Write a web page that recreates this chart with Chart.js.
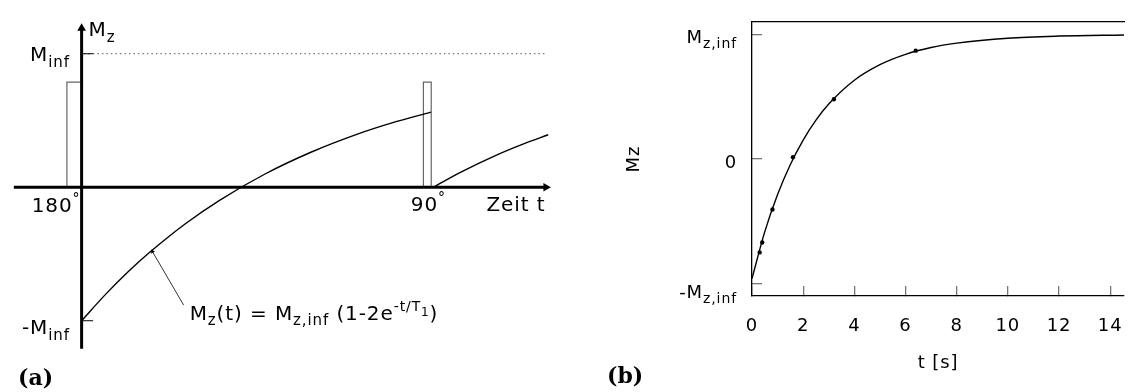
<!DOCTYPE html>
<html>
<head>
<meta charset="utf-8">
<script src="https://cdn.jsdelivr.net/npm/chart.js@4"></script>
<style>
  html, body { margin: 0; padding: 0; background: #fff; overflow: hidden; }
  #wrap { position: relative; width: 1128px; height: 392px; }
  #panelA { position: absolute; left: 0; top: 0; }
  #panelB { position: absolute; left: 600px; top: 0; }
</style>
</head>
<body>
<div id="wrap">
  <canvas id="panelA" width="564" height="392"></canvas>
  <canvas id="panelB" width="528" height="392"></canvas>
</div>
<script>
// (a) inversion recovery sketch: time in units of T1, Mz in units of M_inf
const recoveryT = [0, 0.1, 0.2, 0.3, 0.45, 0.6, 0.8, 1.0, 1.2, 1.35, 1.52]
const recoveryM = [-1, -0.81, -0.637, -0.482, -0.275, -0.098, 0.101, 0.264, 0.398, 0.482, 0.563]
const afterPulseT = [1.53, 1.65, 1.8, 1.92, 2.03]
const afterPulseM = [0, 0.113, 0.237, 0.323, 0.393]
const pulse180T = [-0.064, 0]
const pulse90T = [1.487, 1.521]
const pulseHeight = 0.788
const timeAxis = [-0.295, 2.02]
const mzAxis = [-1.21, 1.19]
const levelT = [0.01, 2.02]
const arrowT = [0.444, 0.308]
const arrowM = [-0.883, -0.482]

// (b) measured recovery with fitted curve
const fitT = [0, 0.5, 1, 1.5, 2, 2.5, 3, 4, 5, 6, 7, 8, 10, 12, 14.6]
const fitM = [-0.96, -0.583, -0.285, -0.044, 0.152, 0.312, 0.441, 0.632, 0.757, 0.84, 0.895, 0.93, 0.97, 0.987, 0.996]
const measT = [0.3, 0.4, 0.8, 1.6, 3.2, 6.4]
const measM = [-0.75, -0.67, -0.405, 0.015, 0.48, 0.87]
const xTicksB = [0, 2, 4, 6, 8, 10, 12, 14]
const yTicksB = [-1, 0, 1]
const yTickNames = [[['-M'], ['z,inf', 'sub']], [['0']], [['M'], ['z,inf', 'sub']]]

const FONT = '"DejaVu Sans", Verdana, sans-serif'
const pts = (xs, ys) => xs.map((x, i) => ({ x, y: ys[i] }))

// text with sub/superscript pieces: [text, kind]
const SCALE = { n: 1, sub: 0.75, sup: 0.72, ss: 0.58 }
const SHIFT = { n: 0, sub: 0.28, sup: -0.42, ss: -0.2 }
function richText(ctx, parts, x, y, align, size) {
  const font = k => `${Math.round(size * SCALE[k])}px ${FONT}`
  let w = 0
  for (const [s, k = 'n'] of parts) {
    ctx.font = font(k)
    w += ctx.measureText(s).width
  }
  let cx = align === 'right' ? x - w : x
  for (const [s, k = 'n'] of parts) {
    ctx.font = font(k)
    ctx.fillText(s, cx, y + SHIFT[k] * size)
    cx += ctx.measureText(s).width
  }
}

// the labels are set a little looser than the default tracking
const spacing = {
  id: 'spacing',
  beforeDraw(chart) {
    chart.ctx.letterSpacing = '0.9px'
  },
}

function panelTag(text, x, y) {
  return {
    id: 'panelTag',
    afterDraw(chart) {
      const { ctx } = chart
      ctx.save()
      ctx.letterSpacing = '0px'
      ctx.fillStyle = '#000'
      ctx.textAlign = 'left'
      ctx.font = 'bold 22px "DejaVu Serif", serif'
      ctx.fillText(text, x, y)
      ctx.restore()
    },
  }
}

const sketchLabels = {
  id: 'sketchLabels',
  afterDatasetsDraw(chart) {
    const { ctx, scales: { x, y } } = chart
    const put = (parts, t, m, align = 'left') =>
      richText(ctx, parts, x.getPixelForValue(t), y.getPixelForValue(m), align, 20)
    ctx.save()
    ctx.fillStyle = '#000'
    ctx.textAlign = 'left'
    ctx.textBaseline = 'alphabetic'
    put([['M'], ['z', 'sub']], 0.03, 1.131)
    put([['M'], ['inf', 'sub']], -0.051, 0.942, 'right')
    put([['-M'], ['inf', 'sub']], -0.051, -1.102, 'right')
    put([['180'], ['°', 'sup']], -0.005, -0.182, 'right')
    put([['90'], ['°', 'sup']], 1.432, -0.175)
    put([['Zeit t']], 1.761, -0.175)
    put([['M'], ['z', 'sub'], ['(t) = M'], ['z,inf', 'sub'], [' (1-2e'], ['-t/T', 'sup'], ['1', 'ss'], [')']], 0.47, -0.993)
    ctx.restore()
  },
}

const line = (data, extra) => ({
  data,
  borderColor: '#000',
  borderWidth: 1.4,
  pointRadius: 0,
  tension: 0,
  ...extra,
})

new Chart(document.getElementById('panelA'), {
  type: 'line',
  data: {
    datasets: [
      // axes with arrow heads
      line(pts(timeAxis, [0, 0]), {
        borderWidth: 3,
        pointRadius: [0, 5],
        pointStyle: 'triangle',
        rotation: 90,
        pointBackgroundColor: '#000',
        pointBorderWidth: 0,
      }),
      line(pts([0, 0], mzAxis), {
        borderWidth: 3,
        pointRadius: [0, 5],
        pointStyle: 'triangle',
        pointBackgroundColor: '#000',
        pointBorderWidth: 0,
      }),
      // M_inf / -M_inf marks
      line(pts([0, 0.05], [1, 1]), { borderWidth: 1 }),
      line(pts([0, 0.05], [-1, -1]), { borderWidth: 1 }),
      line(pts(levelT, [1, 1]), { borderWidth: 1, borderColor: '#555', borderDash: [1.5, 3] }),
      // label arrow
      line(pts(arrowT, arrowM), {
        borderWidth: 0.8,
        pointRadius: [0, 2.5],
        pointStyle: 'triangle',
        rotation: -30,
        pointBackgroundColor: '#000',
        pointBorderWidth: 0,
      }),
      // recovery curves
      line(pts(recoveryT, recoveryM), { cubicInterpolationMode: 'monotone' }),
      line(pts(afterPulseT, afterPulseM), { cubicInterpolationMode: 'monotone' }),
      // rf pulses
      line(pts([pulse180T[0], pulse180T[0], pulse180T[1], pulse180T[1]], [0, pulseHeight, pulseHeight, 0]), {
        borderColor: '#666',
        borderWidth: 1.2,
      }),
      line(pts([pulse90T[0], pulse90T[0], pulse90T[1], pulse90T[1]], [0, pulseHeight, pulseHeight, 0]), {
        borderColor: '#666',
        borderWidth: 1.2,
      }),
    ],
  },
  options: {
    responsive: false,
    animation: false,
    events: [],
    layout: { padding: 0 },
    plugins: { legend: { display: false }, tooltip: { enabled: false } },
    scales: {
      x: { type: 'linear', display: false, min: -78 / 234, max: (564 - 78) / 234 },
      y: { type: 'linear', display: false, min: -205 / 137, max: 187 / 137 },
    },
  },
  plugins: [spacing, sketchLabels, panelTag('(a)', 18, 385)],
})

const yTickLabels = {
  id: 'yTickLabels',
  afterDraw(chart) {
    const { ctx, scales: { y } } = chart
    const drop = [14, 9, 9]
    ctx.save()
    ctx.fillStyle = '#000'
    ctx.textAlign = 'left'
    ctx.textBaseline = 'alphabetic'
    yTicksB.forEach((v, i) => {
      richText(ctx, yTickNames[i], 137, y.getPixelForValue(v) + drop[i], 'right', 18)
    })
    ctx.restore()
  },
}

const tickFont = { family: FONT, size: 18 }

new Chart(document.getElementById('panelB'), {
  type: 'line',
  data: {
    datasets: [
      {
        data: pts(measT, measM),
        showLine: false,
        pointRadius: 2.2,
        pointBackgroundColor: '#000',
        pointBorderWidth: 0,
      },
      {
        data: pts(fitT, fitM),
        borderColor: '#000',
        borderWidth: 1.4,
        pointRadius: 0,
        cubicInterpolationMode: 'monotone',
      },
    ],
  },
  options: {
    responsive: false,
    animation: false,
    events: [],
    layout: { padding: { top: 22, left: 0, right: 0, bottom: 0 } },
    plugins: { legend: { display: false }, tooltip: { enabled: false } },
    scales: {
      x: {
        type: 'linear',
        min: 0,
        max: 14.54,
        afterBuildTicks: s => { s.ticks = xTicksB.map(value => ({ value })) },
        afterFit: s => {
          s.height = 96
          s.paddingLeft = 0
          s.paddingRight = 0
        },
        border: { color: '#000', width: 1.3 },
        grid: { drawOnChartArea: false, tickLength: -10, color: '#777', lineWidth: 1.3 },
        ticks: { font: tickFont, color: '#000', padding: 30, maxRotation: 0 },
        title: { display: true, text: 't [s]', font: tickFont, color: '#000', padding: { top: 0, bottom: 18 } },
      },
      xTop: {
        type: 'linear',
        position: 'top',
        min: 0,
        max: 14.54,
        afterFit: s => {
          s.height = 0
          s.paddingLeft = 0
          s.paddingRight = 0
        },
        border: { color: '#000', width: 1.3 },
        grid: { drawOnChartArea: false, drawTicks: false },
        ticks: { display: false },
      },
      y: {
        type: 'linear',
        min: -1.1,
        max: 1.1,
        afterBuildTicks: s => { s.ticks = yTicksB.map(value => ({ value })) },
        afterFit: s => { s.width = 152 },
        border: { color: '#000', width: 1.3 },
        grid: { drawOnChartArea: false, tickLength: -10, color: '#777', lineWidth: 1.3 },
        ticks: { display: false },
        title: { display: true, text: 'Mz', font: tickFont, color: '#000', padding: { top: 24, bottom: 0 } },
      },
    },
  },
  plugins: [spacing, yTickLabels, panelTag('(b)', 7, 383)],
})
</script>
</body>
</html>
